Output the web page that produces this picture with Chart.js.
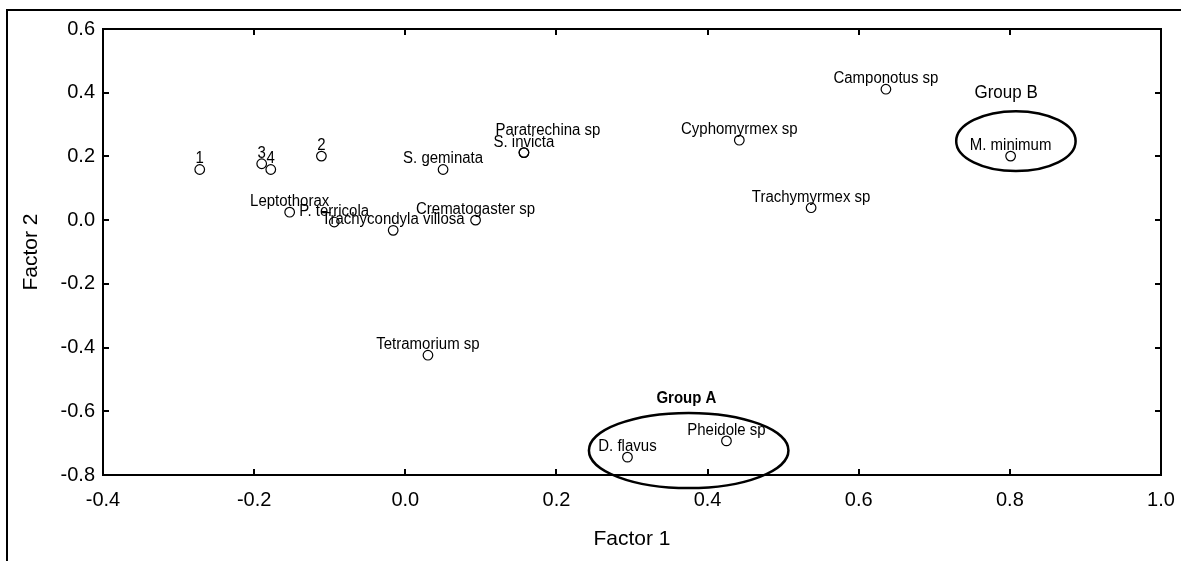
<!DOCTYPE html>
<html>
<head>
<meta charset="utf-8">
<script src="https://cdn.jsdelivr.net/npm/chart.js@4.4.0/dist/chart.umd.min.js"></script>
<style>
  html, body { margin: 0; padding: 0; background: #fff; }
  #wrap { position: relative; width: 1181px; height: 561px; overflow: hidden; }
  #myChart { position: absolute; left: 0; top: 0; }
  #frame { position: absolute; left: 6px; top: 9px; right: 0; bottom: 0;
           border-left: 2px solid #000; border-top: 2px solid #000; pointer-events: none; }
</style>
</head>
<body>
<div id="wrap">
  <canvas id="myChart" width="1181" height="561"></canvas>
  <div id="frame"></div>
</div>
<script>
// species scores on the two factors
const species = [
  '1', '3', '4', '2',
  'Leptothorax', 'P. terricola', 'Trachycondyla villosa', 'S. geminata',
  'Crematogaster sp', 'Paratrechina sp', 'S. invicta', 'Tetramorium sp',
  'Cyphomyrmex sp', 'Trachymyrmex sp', 'Camponotus sp', 'M. minimum',
  'D. flavus', 'Pheidole sp',
];
const factor1 = [
  -0.272, -0.190, -0.178, -0.111,
  -0.153, -0.094, -0.016, 0.050,
  0.093, 0.157, 0.157, 0.030,
  0.442, 0.537, 0.636, 0.801,
  0.294, 0.425,
];
const factor2 = [
  0.159, 0.177, 0.159, 0.201,
  0.025, -0.006, -0.032, 0.159,
  0.000, 0.212, 0.212, -0.424,
  0.251, 0.039, 0.411, 0.201,
  -0.744, -0.693,
];
const xRange = [-0.4, 1.0];
const yRange = [-0.8, 0.6];
const tickStep = 0.2;

// circled groups (data units)
const groups = [
  { text: 'Group A', bold: true, size: 15, tx: 0.372, ty: -0.561, cx: 0.375, cy: -0.723, rx: 0.132, ry: 0.118 },
  { text: 'Group B', bold: false, size: 17, tx: 0.795, ty: 0.399, cx: 0.808, cy: 0.248, rx: 0.079, ry: 0.094 },
];

// labels that were nudged off their point
const labelShift = { 'Paratrechina sp': [24, -12] };

const FONT = "'Liberation Sans', Arial, sans-serif";
const fmt = v => (Math.abs(v) < 1e-9 ? 0 : v).toFixed(1);

// text in the original is a bit taller than plain Arial
function tallText(ctx, text, x, y, stretch) {
  ctx.save();
  ctx.translate(x, y);
  ctx.scale(1, stretch);
  ctx.fillText(text, 0, 0);
  ctx.restore();
}

const pointLabels = {
  id: 'pointLabels',
  beforeDatasetsDraw(chart) {
    const ctx = chart.ctx;
    const meta = chart.getDatasetMeta(0);
    ctx.save();
    ctx.font = '15px ' + FONT;
    ctx.fillStyle = '#000';
    ctx.textAlign = 'center';
    ctx.textBaseline = 'alphabetic';
    meta.data.forEach((pt, i) => {
      const s = labelShift[species[i]] || [0, 0];
      tallText(ctx, species[i], pt.x + s[0], pt.y - 6 + s[1], 1.15);
    });
    ctx.restore();
  },
  afterDraw(chart) {
    const ctx = chart.ctx;
    const xs = chart.scales.x, ys = chart.scales.y;
    ctx.save();
    groups.forEach(g => {
      const cx = xs.getPixelForValue(g.cx), cy = ys.getPixelForValue(g.cy);
      const rx = Math.abs(xs.getPixelForValue(g.cx + g.rx) - cx);
      const ry = Math.abs(ys.getPixelForValue(g.cy + g.ry) - cy);
      ctx.beginPath();
      ctx.ellipse(cx, cy, rx, ry, 0, 0, Math.PI * 2);
      ctx.lineWidth = 2.5;
      ctx.strokeStyle = '#000';
      ctx.stroke();
      ctx.font = (g.bold ? 'bold ' : '') + g.size + 'px ' + FONT;
      ctx.fillStyle = '#000';
      ctx.textAlign = 'center';
      ctx.textBaseline = 'middle';
      tallText(ctx, g.text, xs.getPixelForValue(g.tx), ys.getPixelForValue(g.ty), 1.1);
    });
    ctx.restore();
  }
};

const gridStyle = { drawOnChartArea: false, tickLength: -6, color: '#000', lineWidth: 2 };
const borderStyle = { color: '#000', width: 2 };

// fixed box sizes so the plot area lands where the original has it
function fixBox(w, h) {
  return s => {
    if (w !== null) s.width = w;
    if (h !== null) s.height = h;
    s.paddingLeft = s.paddingRight = s.paddingTop = s.paddingBottom = 0;
  };
}

const config = {
  type: 'scatter',
  data: {
    datasets: [{
      data: factor1.map((x, i) => ({ x: x, y: factor2[i] })),
      pointStyle: 'circle',
      pointRadius: 4.8,
      borderWidth: 1.2,
      borderColor: '#000',
      backgroundColor: 'rgba(255,255,255,0)',
    }]
  },
  options: {
    responsive: false,
    animation: false,
    devicePixelRatio: 1,
    layout: { padding: { left: 0, top: 29, right: 20, bottom: 0 } },
    plugins: { legend: { display: false }, tooltip: { enabled: false } },
    scales: {
      x: {
        type: 'linear', position: 'bottom', min: xRange[0], max: xRange[1],
        ticks: { stepSize: tickStep, callback: fmt, color: '#000', padding: 19, maxRotation: 0,
                 font: { family: FONT, size: 20 } },
        grid: gridStyle, border: borderStyle,
        title: { display: true, text: 'Factor 1', color: '#000', font: { family: FONT, size: 21 },
                 padding: { top: 0, bottom: 9 } },
        afterFit: fixBox(null, 86)
      },
      y: {
        type: 'linear', position: 'left', min: yRange[0], max: yRange[1],
        ticks: { stepSize: tickStep, callback: fmt, color: '#000', padding: 14,
                 font: { family: FONT, size: 20 } },
        grid: gridStyle, border: borderStyle,
        title: { display: true, text: 'Factor 2', color: '#000', font: { family: FONT, size: 21 },
                 padding: { top: 19, bottom: 0 } },
        afterFit: fixBox(103, null)
      },
      x2: {
        type: 'linear', position: 'top', min: xRange[0], max: xRange[1],
        ticks: { stepSize: tickStep, display: false },
        grid: gridStyle, border: borderStyle,
        afterFit: fixBox(null, 0)
      },
      y2: {
        type: 'linear', position: 'right', min: yRange[0], max: yRange[1],
        ticks: { stepSize: tickStep, display: false },
        grid: gridStyle, border: borderStyle,
        afterFit: fixBox(0, null)
      }
    }
  },
  plugins: [pointLabels]
};

const myChart = new Chart(document.getElementById('myChart'), config);
</script>
</body>
</html>
